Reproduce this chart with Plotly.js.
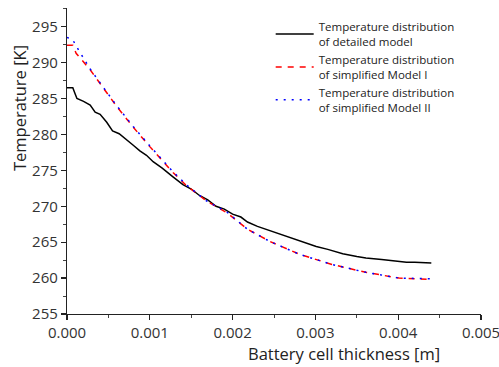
<!DOCTYPE html>
<html>
<head>
<meta charset="utf-8">
<script src="https://cdn.plot.ly/plotly-3.0.1.min.js"></script>
<style>html,body{margin:0;padding:0;background:#fff;}#chart{width:499px;height:367px;}</style>
</head>
<body>
<div id="chart"></div>
<script>
// Detailed model
const xDetailed = [0, 0.00007, 0.0001, 0.00012, 0.0002, 0.00028, 0.00034, 0.0004, 0.00048, 0.00055, 0.00063, 0.00072, 0.0008, 0.00088, 0.00096, 0.00104, 0.00115, 0.00128, 0.0014, 0.0015, 0.0016, 0.0017, 0.0018, 0.0019, 0.002, 0.0021, 0.00218, 0.0023, 0.00245, 0.0026, 0.00269, 0.0028, 0.0029, 0.00301, 0.00315, 0.00333, 0.0035, 0.00361, 0.0038, 0.00393, 0.0041, 0.0042, 0.0044];
const tDetailed = [286.5, 286.5, 285.6, 285.0, 284.6, 284.1, 283.1, 282.8, 281.7, 280.5, 280.1, 279.3, 278.5, 277.7, 277.1, 276.2, 275.3, 274.1, 273.0, 272.4, 271.5, 270.9, 270.0, 269.6, 268.9, 268.5, 267.8, 267.2, 266.6, 266.0, 265.7, 265.2, 264.9, 264.4, 264.0, 263.4, 263.0, 262.8, 262.6, 262.4, 262.2, 262.2, 262.1];
// Simplified Model I
const xModel1 = [0, 0.00007, 0.00011, 0.0002, 0.00028, 0.00043, 0.0006, 0.0008, 0.001, 0.00128, 0.00145, 0.00169, 0.00193, 0.00218, 0.00245, 0.00281, 0.0032, 0.00361, 0.00401, 0.0044];
const tModel1 = [292.4, 292.4, 291.3, 290.1, 289.0, 286.6, 283.9, 281.0, 278.3, 274.7, 272.8, 270.7, 269.1, 266.8, 265.1, 263.3, 261.9, 260.8, 260.0, 259.8];
// Simplified Model II
const xModel2 = [0, 0.00007, 0.0001, 0.00019, 0.00028, 0.00043, 0.0006, 0.0008, 0.001, 0.00128, 0.00145, 0.00169, 0.00193, 0.00218, 0.00245, 0.00281, 0.0032, 0.00361, 0.00401, 0.0044];
const tModel2 = [293.5, 293.2, 292.5, 290.7, 289.1, 286.7, 284.0, 281.1, 278.4, 274.8, 272.9, 270.7, 269.2, 266.8, 265.1, 263.3, 261.9, 260.8, 260.0, 259.9];
const legendNames = ["Temperature distribution<br>of detailed model", "Temperature distribution<br>of simplified Model I", "Temperature distribution<br>of simplified Model II"];
const xTickVals = [0, 0.001, 0.002, 0.003, 0.004, 0.005];
const xTickText = ["0.000", "0.001", "0.002", "0.003", "0.004", "0.005"];
const yTickVals = [255, 260, 265, 270, 275, 280, 285, 290, 295];

const font = "Open Sans, Noto Sans, sans-serif";
const traces = [
  {x: xDetailed, y: tDetailed, mode: "lines", name: legendNames[0], line: {color: "#000000", width: 1.5}},
  {x: xModel1, y: tModel1, mode: "lines", name: legendNames[1], line: {color: "#ff0000", width: 1.5, dash: "6px,6px"}},
  {x: xModel2, y: tModel2, mode: "lines", name: legendNames[2], line: {color: "#0000ff", width: 1.5, dash: "2px,6px"}}
];
const axisCommon = {
  showline: true, linecolor: "#222", linewidth: 1.2, mirror: false,
  showgrid: false, zeroline: false,
  ticks: "outside", ticklen: 5, tickwidth: 1.2, tickcolor: "#222",
  ticklabeloverflow: "allow",
  tickfont: {family: font, size: 15, color: "#333"}
};
const layout = {
  width: 499, height: 367,
  margin: {l: 67, r: 18, t: 8, b: 53},
  paper_bgcolor: "#fff", plot_bgcolor: "#fff",
  showlegend: true,
  legend: {x: 0.492, y: 0.985, xanchor: "left", yanchor: "top", bgcolor: "rgba(0,0,0,0)",
    font: {family: font, size: 11.5, color: "#222"}, itemwidth: 38},
  xaxis: Object.assign({}, axisCommon, {range: [0, 0.005], tickvals: xTickVals, ticktext: xTickText,
    minor: {ticks: "outside", ticklen: 3, tickwidth: 1, tickcolor: "#444", dtick: 0.0005, tick0: 0}}),
  yaxis: Object.assign({}, axisCommon, {range: [255, 297.6], tickvals: yTickVals,
    minor: {ticks: "outside", ticklen: 3, tickwidth: 1, tickcolor: "#444", dtick: 2.5, tick0: 255}}),
  annotations: [
    {text: "Battery cell thickness [m]", xref: "paper", yref: "paper", x: 0.67, y: -0.128, xanchor: "center", yanchor: "middle",
      showarrow: false, font: {family: font, size: 16.5, color: "#222"}},
    {text: "Temperature [K]", xref: "paper", yref: "paper", x: -0.116, y: 0.673, xanchor: "center", yanchor: "middle", textangle: -90,
      showarrow: false, font: {family: font, size: 16.5, color: "#222"}}
  ]
};
Plotly.newPlot("chart", traces, layout, {displayModeBar: false, staticPlot: true});
</script>
</body>
</html>
